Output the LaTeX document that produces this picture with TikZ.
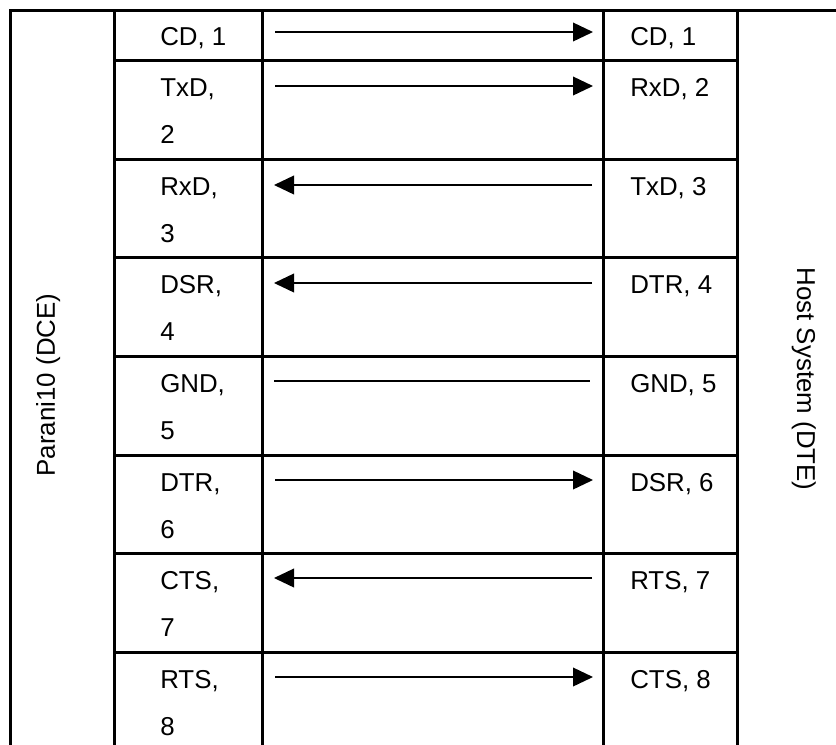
\documentclass[tikz,border=0pt]{standalone}
\usepackage{fontspec}
\setmainfont{Liberation Sans}
\usetikzlibrary{arrows.meta}

\begin{document}
\begin{tikzpicture}[x=0.75pt,y=-0.75pt,
       rule/.style={line width=2.25pt},
       sig/.style={line width=1.2pt,-{Triangle[length=15pt,width=14pt]}},
       wire/.style={line width=1.2pt},
       pin/.style={anchor=base west,inner sep=0pt,align=left,
         font=\fontsize{19.4}{35.25}\selectfont},
       side/.style={anchor=base,inner sep=0pt,font=\fontsize{19.4}{23}\selectfont}]
       \useasboundingbox (0,0) rectangle (836,744); \clip (0,0) rectangle (836,744);
       \draw[rule] (10,770) -- (10,10) -- (860,10) -- (860,770);
       \draw[rule] (114,10) -- (114,770); \draw[rule] (262,10) -- (262,770);
       \draw[rule] (603,10) -- (603,770); \draw[rule] (737,10) -- (737,770);
       \draw[rule] (114,60) -- (737,60); \draw[rule] (114,159) -- (737,159);
       \draw[rule] (114,257) -- (737,257); \draw[rule] (114,356) -- (737,356);
       \draw[rule] (114,455) -- (737,455); \draw[rule] (114,553) -- (737,553);
       \draw[rule] (114,652) -- (737,652); \draw[rule] (114,750) -- (737,750);
       \node[side,rotate=90] (dce) at (55,385) {Parani10 (DCE)};
       \node[side,rotate=-90] (dte) at (797,379) {Host System (DTE)};
       \node[pin] (l1) at (160,45) {CD, 1}; \node[pin] (r1) at (630,45) {CD, 1};
       \node[pin] (l2) at (160,143) {TxD,\\2}; \node[pin] (r2) at (630,96) {RxD, 2};
       \node[pin] (l3) at (160,242) {RxD,\\3}; \node[pin] (r3) at (630,195) {TxD, 3};
       \node[pin] (l4) at (160,340) {DSR,\\4}; \node[pin] (r4) at (630,293) {DTR, 4};
       \node[pin] (l5) at (160,439) {GND,\\5}; \node[pin] (r5) at (630,392) {GND, 5};
       \node[pin] (l6) at (160,538) {DTR,\\6}; \node[pin] (r6) at (630,491) {DSR, 6};
       \node[pin] (l7) at (160,636) {CTS,\\7}; \node[pin] (r7) at (630,589) {RTS, 7};
       \node[pin] (l8) at (160,735) {RTS,\\8}; \node[pin] (r8) at (630,688) {CTS, 8};
       \coordinate (a1) at (275,32); \coordinate (b1) at (593,32);
       \coordinate (a2) at (275,86); \coordinate (b2) at (593,86);
       \coordinate (a3) at (274,185); \coordinate (b3) at (592,185);
       \coordinate (a4) at (274,283); \coordinate (b4) at (592,283);
       \coordinate (a5) at (274,381); \coordinate (b5) at (590,381);
       \coordinate (a6) at (275,480); \coordinate (b6) at (593,480);
       \coordinate (a7) at (274,578); \coordinate (b7) at (592,578);
       \coordinate (a8) at (275,677); \coordinate (b8) at (593,677);
       \draw[sig] (a1) -- (b1); \draw[sig] (a2) -- (b2); \draw[sig] (b3) -- (a3);
       \draw[sig] (b4) -- (a4); \draw[wire] (a5) -- (b5); \draw[sig] (a6) -- (b6);
       \draw[sig] (b7) -- (a7); \draw[sig] (a8) -- (b8);
\end{tikzpicture}
\end{document}
